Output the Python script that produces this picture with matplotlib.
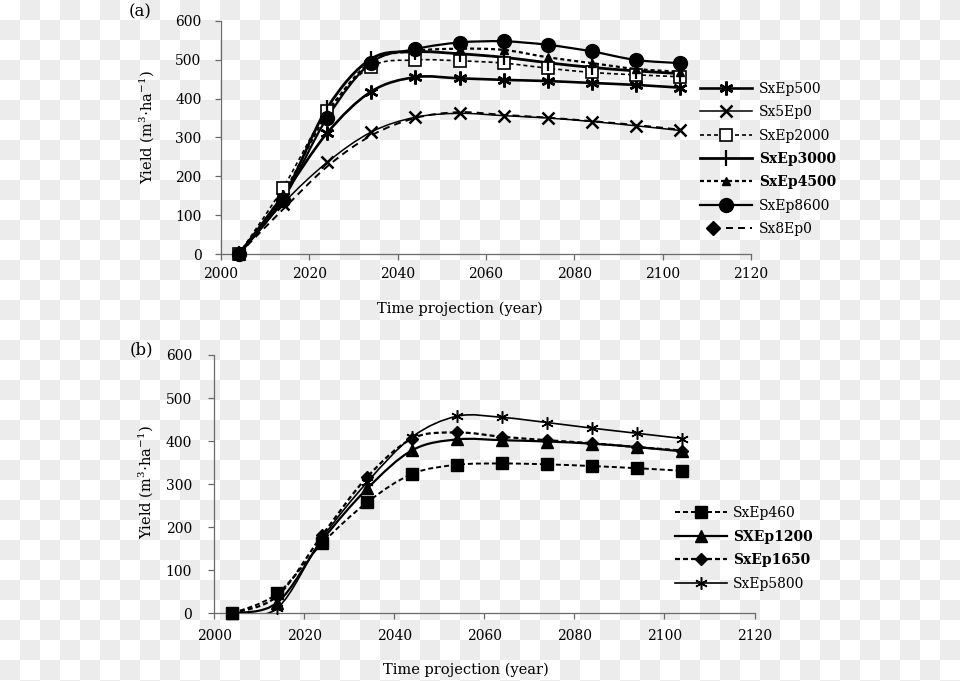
import numpy as np
import matplotlib
matplotlib.use("Agg")
import matplotlib.pyplot as plt
from matplotlib.path import Path
from matplotlib.patches import PathPatch
from matplotlib.lines import Line2D
from matplotlib.legend_handler import HandlerTuple

plt.rcParams["font.family"] = ["DejaVu Serif"]
plt.rcParams["mathtext.fontset"] = "dejavuserif"

# ---------------- data ----------------
years = [2004, 2014, 2024, 2034, 2044, 2054, 2064, 2074, 2084, 2094, 2104]

# panel (a)
a_names = ["SxEp500", "Sx5Ep0", "SxEp2000", "SxEp3000", "SxEp4500", "SxEp8600", "Sx8Ep0"]
sxep500  = [0, 150, 311, 418, 455, 452, 448, 445, 440, 435, 428]
sx5ep0   = [0, 130, 236, 314, 352, 362, 356, 350, 341, 330, 318]
sxep2000 = [0, 170, 367, 482, 499, 497, 491, 478, 467, 461, 456]
sxep3000 = [0, 145, 375, 502, 520, 515, 506, 492, 480, 471, 464]
sxep4500 = [0, 155, 360, 495, 522, 528, 525, 506, 491, 476, 469]
sxep8600 = [0, 140, 350, 492, 527, 544, 547, 538, 521, 499, 491]
sx8ep0   = [0, 115, 225, 305, 350, 365, 358, 351, 342, 332, 320]

# panel (b)
b_names = ["SxEp460", "SXEp1200", "SxEp1650", "SxEp5800"]
sxep460  = [0, 46, 163, 258, 324, 345, 348, 346, 342, 337, 331]
sxep1200 = [0, 25, 170, 290, 379, 404, 402, 399, 394, 386, 376]
sxep1650 = [0, 40, 182, 317, 406, 420, 410, 402, 395, 386, 378]
sxep5800 = [0, 12, 175, 305, 410, 458, 455, 443, 430, 418, 406]

x_ticks = [2000, 2020, 2040, 2060, 2080, 2100, 2120]
y_ticks = [0, 100, 200, 300, 400, 500, 600]

W, H = 960, 681
fig = plt.figure(figsize=(W / 100, H / 100), dpi=100)

# checkerboard (transparent-image look of the reference)
bg = fig.add_axes([0, 0, 1, 1], zorder=-10)
nr, nc = 35, 48
board = (np.add.outer(np.arange(nr), np.arange(nc)) % 2).astype(float)
bg.imshow(board, cmap=matplotlib.colors.ListedColormap(["#ffffff", "#ececec"]),
          extent=(0, nc * 20, nr * 20, 0), interpolation="nearest", aspect="auto")
bg.set_xlim(0, W)
bg.set_ylim(H, 0)
bg.axis("off")


def px_axes(l, r, t, b):
    return fig.add_axes([l / W, 1 - b / H, (r - l) / W, (b - t) / H])


def smooth_path(x, y):
    P = np.column_stack([np.asarray(x, float), np.asarray(y, float)])
    n = len(P)
    verts = [P[0]]
    codes = [Path.MOVETO]
    for i in range(n - 1):
        p0 = P[i - 1] if i > 0 else P[i]
        p1, p2 = P[i], P[i + 1]
        p3 = P[i + 2] if i + 2 < n else P[i + 1]
        verts += [p1 + (p2 - p0) / 6, p2 - (p3 - p1) / 6, p2]
        codes += [Path.CURVE4] * 3
    return Path(verts, codes)


def dash(lw, on_px, off_px):
    return (0, ((on_px / 1.389) / lw, (off_px / 1.389) / lw))


def style_axes(ax, ypad, xpad):
    ax.set_facecolor("none")
    ax.set_xlim(2000, 2120)
    ax.set_ylim(0, 600)
    ax.set_xticks(x_ticks)
    ax.set_yticks(y_ticks)
    for s in ["top", "right"]:
        ax.spines[s].set_visible(False)
    for s in ["left", "bottom"]:
        ax.spines[s].set_color("#6a6a6a")
        ax.spines[s].set_linewidth(0.9)
    ax.tick_params(direction="out", length=4, width=0.9, color="#6a6a6a",
                   labelsize=10, labelcolor="black")
    ax.tick_params(axis="y", pad=ypad)
    ax.tick_params(axis="x", pad=xpad)


def draw_series(ax, vals, lw, ls, marker, ms, mfc="black", mew=1.0, show_marker=True):
    ax.add_patch(PathPatch(smooth_path(years, vals), fill=False, edgecolor="black",
                           lw=lw, linestyle=ls, capstyle="butt", zorder=3))
    if show_marker:
        ax.plot(years, vals, linestyle="none", marker=marker, ms=ms, mfc=mfc,
                mec="black", mew=mew, clip_on=False, zorder=4)
    return Line2D([], [], color="black", lw=lw, linestyle=ls, marker=marker, ms=ms,
                  mfc=mfc, mec="black", mew=mew)


# ---------------- panel (a) ----------------
axa = px_axes(221, 751, 20.7, 254.3)
style_axes(axa, ypad=10, xpad=5.5)

ast = (6, 2, 0)
ha = []
ha.append(draw_series(axa, sxep500, 1.9, "-", ast, 10, mew=1.8))
ha.append(draw_series(axa, sx5ep0, 1.1, "-", "x", 8.5, mew=1.8))
ha.append(draw_series(axa, sxep2000, 1.2, dash(1.2, 4, 3), "s", 8.5, mfc="white", mew=1.2))
ha.append(draw_series(axa, sxep3000, 2.0, "-", "|", 11, mew=1.6))
ha.append(draw_series(axa, sxep4500, 1.6, dash(1.6, 4, 3), "^", 6))
ha.append(draw_series(axa, sxep8600, 1.6, "-", "o", 10))
l8 = draw_series(axa, sx8ep0, 1.4, dash(1.4, 7, 5), None, 0, show_marker=False)
d8 = Line2D([], [], linestyle="none", marker="D", ms=7, mfc="black", mec="black")
ha.append((d8, l8))

leg_a = fig.legend(ha, a_names, loc="upper left", bbox_to_anchor=(700 / W, 1 - 82 / H),
                   frameon=False, fontsize=10, handlelength=3.75, handletextpad=0.5,
                   labelspacing=0.67, borderpad=0, borderaxespad=0, numpoints=1,
                   handler_map={tuple: HandlerTuple(ndivide=None, pad=0.0)})
for t in leg_a.get_texts():
    if t.get_text() in ("SxEp3000", "SxEp4500"):
        t.set_fontweight("bold")

fig.text(459.5 / W, 1 - 309 / H, "Time projection (year)", ha="center", va="center",
         fontsize=10.5)
fig.text(147 / W, 1 - 127 / H, r"Yield (m$^{3}$$\cdot$ha$^{-1}$)", ha="center",
         va="center", rotation=90, fontsize=10.5)
fig.text(140 / W, 1 - 12 / H, "(a)", ha="center", va="center", fontsize=12)

# ---------------- panel (b) ----------------
axb = px_axes(214.3, 754.5, 355, 613.3)
style_axes(axb, ypad=12, xpad=7)

hb = []
hb.append(draw_series(axb, sxep460, 1.4, dash(1.4, 5, 3), "s", 8.5))
hb.append(draw_series(axb, sxep1200, 1.6, "-", "^", 8.5))
hb.append(draw_series(axb, sxep1650, 1.6, dash(1.6, 5, 3), "D", 6.5))
hb.append(draw_series(axb, sxep5800, 1.2, "-", ast, 9, mew=1.1))

leg_b = fig.legend(hb, b_names, loc="upper left", bbox_to_anchor=(675 / W, 1 - 506 / H),
                   frameon=False, fontsize=10, handlelength=3.75, handletextpad=0.4,
                   labelspacing=0.69, borderpad=0, borderaxespad=0, numpoints=1)
for t in leg_b.get_texts():
    if t.get_text() in ("SXEp1200", "SxEp1650"):
        t.set_fontweight("bold")

fig.text(466 / W, 1 - 670 / H, "Time projection (year)", ha="center", va="center",
         fontsize=10.5)
fig.text(146 / W, 1 - 482 / H, r"Yield (m$^{3}$$\cdot$ha$^{-1}$)", ha="center",
         va="center", rotation=90, fontsize=10.5)
fig.text(141 / W, 1 - 350 / H, "(b)", ha="center", va="center", fontsize=12)

fig.savefig("out.png", dpi=100)
